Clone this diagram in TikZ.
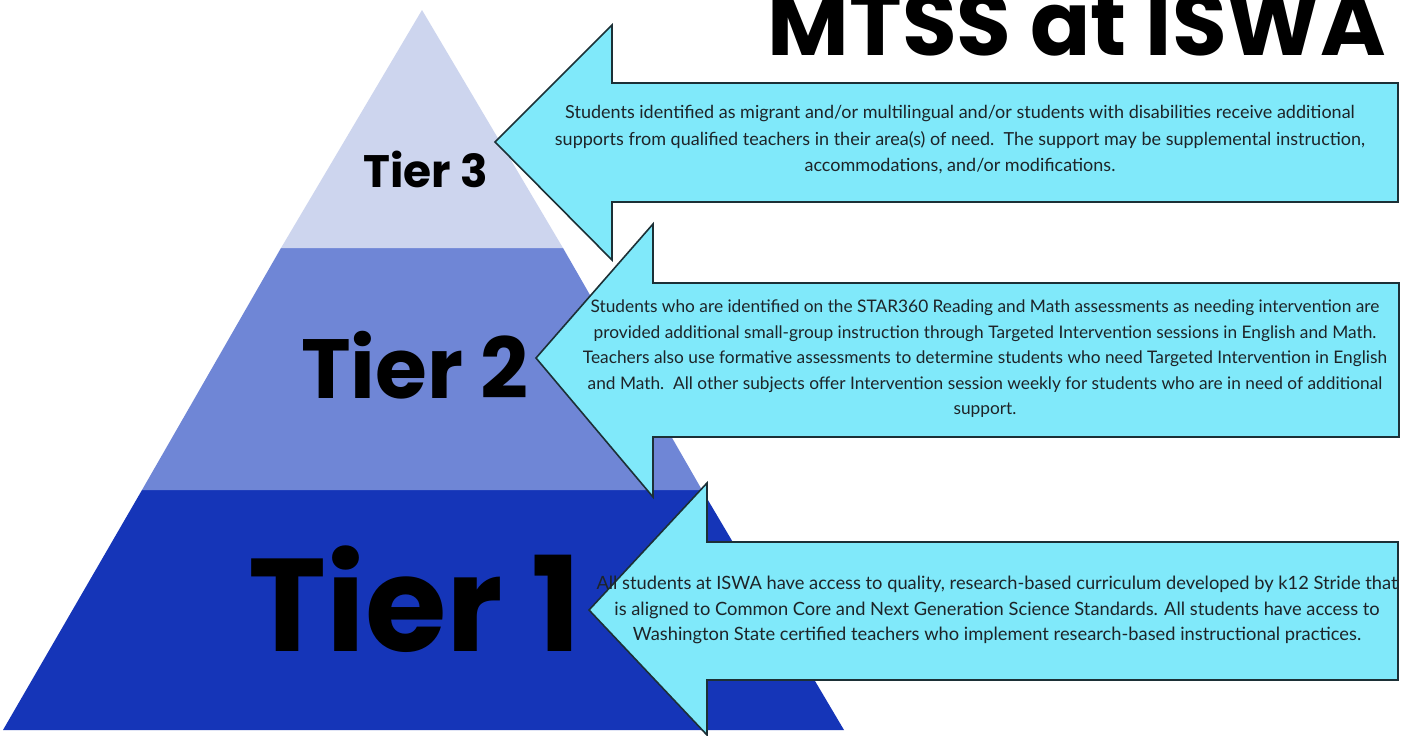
\documentclass[tikz,border=0pt]{standalone}
\usepackage{fontspec}
\setmainfont{Lato}
\newfontfamily\headfont{Poppins}
\definecolor{tthree}{HTML}{CDD5EE}
\definecolor{ttwo}{HTML}{6F86D6}
\definecolor{tone}{HTML}{1535B8}
\definecolor{arrowfill}{HTML}{80E9FA}
\definecolor{arrowline}{HTML}{1C3036}
\definecolor{txt}{HTML}{1E2428}
\tikzset{
  arrowshape/.style={fill=arrowfill, draw=arrowline, line width=1.6pt, line join=miter},
  desc/.style={align=center, text=txt, inner sep=0pt},
  tier/.style={text=black, inner sep=0pt, anchor=base},
}
\begin{document}
\begin{tikzpicture}[x=1pt,y=-1pt]
\useasboundingbox (0,0) rectangle (1414,736);
\fill[white] (0,0) rectangle (1414,736);
% pyramid
\fill[tone] (3,730) -- (844,730) -- (702,490) -- (142,490) -- cycle;
\fill[ttwo] (142,490) -- (702,490) -- (563,248) -- (281,248) -- cycle;
\fill[tthree] (281,248) -- (563,248) -- (422,10) -- cycle;
% tier labels
\node[tier, font=\headfont\bfseries\fontsize{45.5}{50}\selectfont] (t3) at (426,187) {Tier 3};
\node[tier, font=\headfont\bfseries\fontsize{84}{90}\selectfont] (t2) at (415,398) {Tier 2};
\node[tier, font=\headfont\bfseries\fontsize{132}{134}\selectfont] (t1) at (414.5,651) {Tier 1};
% title
\node[tier, font=\headfont\bfseries\fontsize{89}{92}\selectfont] (title) at (1077,55) {MTSS at ISWA};
% arrows
\draw[arrowshape] (495,142) -- (612,25) -- (612,83) -- (1398,83) -- (1398,202) -- (612,202) -- (612,260) -- cycle;
\draw[arrowshape] (536,358) -- (653,224) -- (653,283) -- (1399,283) -- (1399,437) -- (653,437) -- (653,497) -- cycle;
\draw[arrowshape] (589,610) -- (707,483) -- (707,542) -- (1398,542) -- (1398,680) -- (707,680) -- (707,735) -- cycle;
% texts
\node[desc, font=\fontsize{18}{26.5}\selectfont] (d3) at (960,140) {Students identified as migrant and/or multilingual and/or students with disabilities receive additional\\
supports from qualified teachers in their area(s) of need.\ \ The support may be supplemental instruction,\\
accommodations, and/or modifications.};
\node[desc, font=\fontsize{17.3}{25.5}\selectfont] (d2) at (985,359) {Students who are identified on the STAR360 Reading and Math assessments as needing intervention are\\
provided additional small-group instruction through Targeted Intervention sessions in English and Math.\\
Teachers also use formative assessments to determine students who need Targeted Intervention in English\\
and Math.\ \ All other subjects offer Intervention session weekly for students who are in need of additional\\
support.};
\node[desc, font=\fontsize{18.3}{25.5}\selectfont] (d1) at (997,610) {All students at ISWA have access to quality, research-based curriculum developed by k12 Stride that\\
is aligned to Common Core and Next Generation Science Standards. All students have access to\\
Washington State certified teachers who implement research-based instructional practices.};
\end{tikzpicture}
\end{document}
